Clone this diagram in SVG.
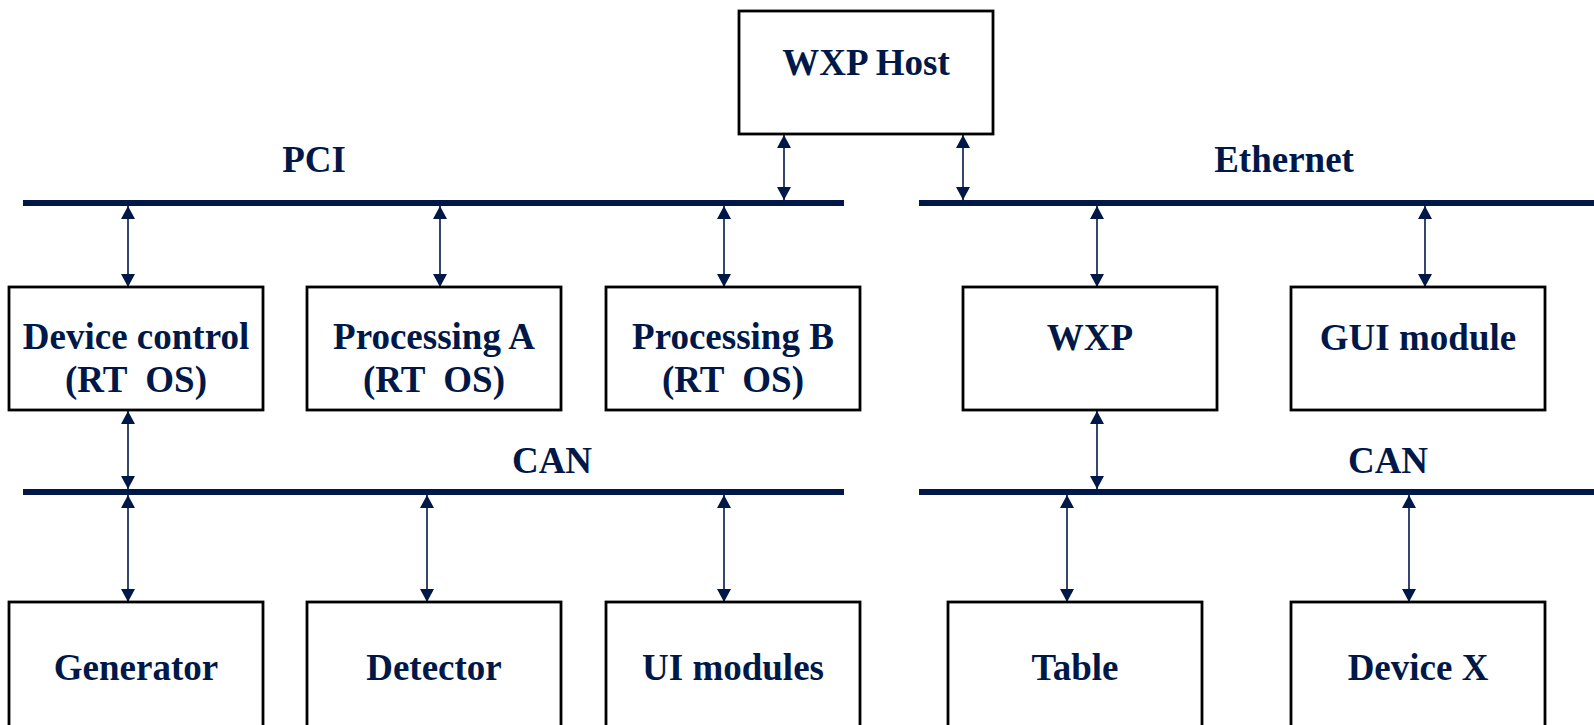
<svg xmlns="http://www.w3.org/2000/svg" width="1594" height="725" viewBox="0 0 1594 725">
<style>
.box{fill:#fff;stroke:#000;stroke-width:2.8}
.lbl{font-family:"Liberation Serif","Times New Roman",serif;font-weight:bold;font-size:37px;fill:#001848;text-anchor:middle;white-space:pre}
.bus{stroke:#001848;stroke-width:6}
.arr{stroke:#001848;stroke-width:1.6;fill:none;marker-start:url(#ah);marker-end:url(#ah)}
</style>
<defs>
<marker id="ah" markerUnits="userSpaceOnUse" markerWidth="14" markerHeight="14" viewBox="0 0 14 14" refX="13" refY="7" orient="auto-start-reverse">
<path d="M0,0 L13,7 L0,14 Z" fill="#001848"/>
</marker>
</defs>
<rect width="1594" height="725" fill="#fff"/>
<g id="buses">
<line class="bus" x1="23" y1="203" x2="844" y2="203"/>
<line class="bus" x1="919" y1="203" x2="1594" y2="203"/>
<line class="bus" x1="23" y1="492" x2="844" y2="492"/>
<line class="bus" x1="919" y1="492" x2="1594" y2="492"/>
<text class="lbl" x="314" y="172">PCI</text>
<text class="lbl" x="1284" y="172">Ethernet</text>
<text class="lbl" x="552" y="473">CAN</text>
<text class="lbl" x="1388" y="473">CAN</text>
</g>
<g id="connectors">
<line class="arr" x1="784" y1="135" x2="784" y2="200"/>
<line class="arr" x1="963" y1="135" x2="963" y2="200"/>
<line class="arr" x1="128" y1="206" x2="128" y2="287"/>
<line class="arr" x1="440" y1="206" x2="440" y2="287"/>
<line class="arr" x1="724" y1="206" x2="724" y2="287"/>
<line class="arr" x1="1097" y1="206" x2="1097" y2="287"/>
<line class="arr" x1="1425" y1="206" x2="1425" y2="287"/>
<line class="arr" x1="128" y1="411" x2="128" y2="489"/>
<line class="arr" x1="1097" y1="411" x2="1097" y2="489"/>
<line class="arr" x1="128" y1="495" x2="128" y2="602"/>
<line class="arr" x1="427" y1="495" x2="427" y2="602"/>
<line class="arr" x1="724" y1="495" x2="724" y2="602"/>
<line class="arr" x1="1067" y1="495" x2="1067" y2="602"/>
<line class="arr" x1="1409" y1="495" x2="1409" y2="602"/>
</g>
<g id="wxp-host"><rect class="box" x="739" y="11" width="254" height="123"/><text class="lbl" x="866" y="75">WXP Host</text></g>
<g id="device-control"><rect class="box" x="9" y="287" width="254" height="123"/><text class="lbl" x="136" y="349">Device control</text><text class="lbl" x="136" y="392">(RT  OS)</text></g>
<g id="processing-a"><rect class="box" x="307" y="287" width="254" height="123"/><text class="lbl" x="434" y="349">Processing A</text><text class="lbl" x="434" y="392">(RT  OS)</text></g>
<g id="processing-b"><rect class="box" x="606" y="287" width="254" height="123"/><text class="lbl" x="733" y="349">Processing B</text><text class="lbl" x="733" y="392">(RT  OS)</text></g>
<g id="wxp"><rect class="box" x="963" y="287" width="254" height="123"/><text class="lbl" x="1090" y="350">WXP</text></g>
<g id="gui-module"><rect class="box" x="1291" y="287" width="254" height="123"/><text class="lbl" x="1418" y="350">GUI module</text></g>
<g id="generator"><rect class="box" x="9" y="602" width="254" height="140"/><text class="lbl" x="136" y="680">Generator</text></g>
<g id="detector"><rect class="box" x="307" y="602" width="254" height="140"/><text class="lbl" x="434" y="680">Detector</text></g>
<g id="ui-modules"><rect class="box" x="606" y="602" width="254" height="140"/><text class="lbl" x="733" y="680">UI modules</text></g>
<g id="table"><rect class="box" x="948" y="602" width="254" height="140"/><text class="lbl" x="1075" y="680">Table</text></g>
<g id="device-x"><rect class="box" x="1291" y="602" width="254" height="140"/><text class="lbl" x="1418" y="680">Device X</text></g>
</svg>
